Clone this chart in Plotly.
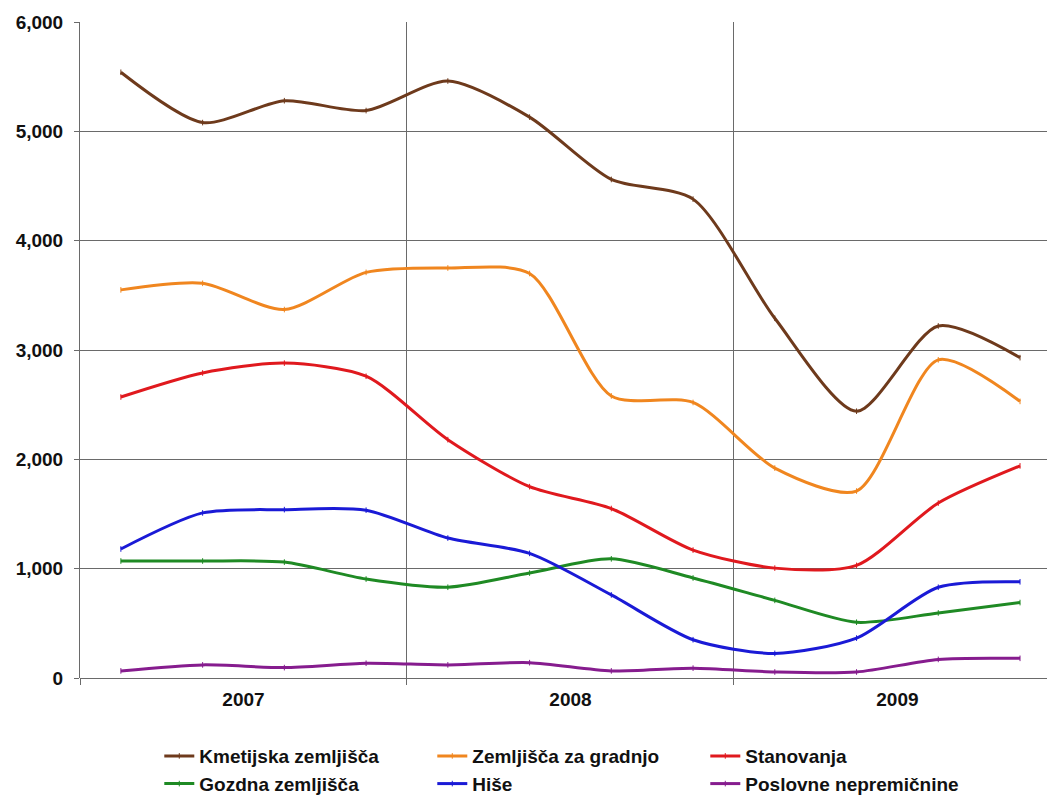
import plotly.graph_objects as go

# Quarterly series, 2007 Q1 .. 2009 Q4 (positions 0..11 on the x axis)
quarters = list(range(12))
years = ["2007", "2008", "2009"]
year_centres = [1.5, 5.5, 9.5]

kmetijska = [5540, 5080, 5280, 5190, 5460, 5130, 4560, 4380, 3290, 2440, 3220, 2930]
gradnjo = [3550, 3610, 3370, 3710, 3750, 3700, 2580, 2520, 1920, 1710, 2910, 2530]
stanovanja = [2570, 2790, 2880, 2760, 2180, 1750, 1550, 1170, 1005, 1030, 1600, 1940]
gozdna = [1070, 1070, 1060, 905, 830, 960, 1090, 915, 710, 510, 595, 690]
hise = [1180, 1510, 1540, 1535, 1280, 1140, 760, 350, 225, 365, 830, 880]
poslovne = [65, 120, 95, 135, 120, 140, 65, 90, 55, 55, 170, 180]

series = [
    ("Kmetijska zemljišča", kmetijska, "#6e3a1c"),
    ("Zemljišča za gradnjo", gradnjo, "#f0861f"),
    ("Stanovanja", stanovanja, "#e0191e"),
    ("Gozdna zemljišča", gozdna, "#1f8a24"),
    ("Hiše", hise, "#1a1ad6"),
    ("Poslovne nepremičnine", poslovne, "#861c8e"),
]

FONT = "Liberation Sans, Arial, sans-serif"
GRID = "#6a6a6a"

fig = go.Figure()
for name, values, colour in series:
    fig.add_trace(go.Scatter(
        x=quarters, y=values, name=name, mode="lines+markers",
        line=dict(color=colour, width=3, shape="spline", smoothing=0.75),
        marker=dict(symbol="line-ns", size=4, line=dict(color=colour, width=1)),
    ))

fig.update_layout(
    width=1047, height=796,
    margin=dict(l=80, r=0, t=22, b=118, autoexpand=False),
    paper_bgcolor="white", plot_bgcolor="white",
    font=dict(family=FONT, size=18, color="#111111"),
    showlegend=True,
    legend=dict(
        orientation="h", x=0.082, xanchor="left", y=-0.09, yanchor="top",
        entrywidth=228, entrywidthmode="pixels",
        font=dict(family=FONT, size=19, color="#111111", weight="bold"),
        itemwidth=30, traceorder="normal", tracegroupgap=0,
    ),
    xaxis=dict(
        range=[-0.5, 11.33],
        tickmode="array", tickvals=year_centres, ticktext=years,
        ticks="", showgrid=False, zeroline=False,
        showline=False, ticklabelstandoff=8,
        tickfont=dict(family=FONT, size=19, weight="bold"),
        minor=dict(tickmode="linear", tick0=-0.5, dtick=4, showgrid=True,
                   gridcolor=GRID, gridwidth=1, ticks="outside",
                   ticklen=6, tickcolor=GRID),
    ),
    yaxis=dict(
        range=[0, 6000], tickmode="linear", tick0=0, dtick=1000,
        tickformat=",d", showgrid=True, gridcolor=GRID, gridwidth=1,
        zeroline=True, zerolinecolor=GRID, zerolinewidth=1,
        showline=True, linecolor=GRID, linewidth=1,
        ticks="outside", ticklen=5, tickcolor=GRID, ticklabelstandoff=7,
        tickfont=dict(family=FONT, size=19, weight="bold"),
    ),
)

fig.write_html("out.html")
